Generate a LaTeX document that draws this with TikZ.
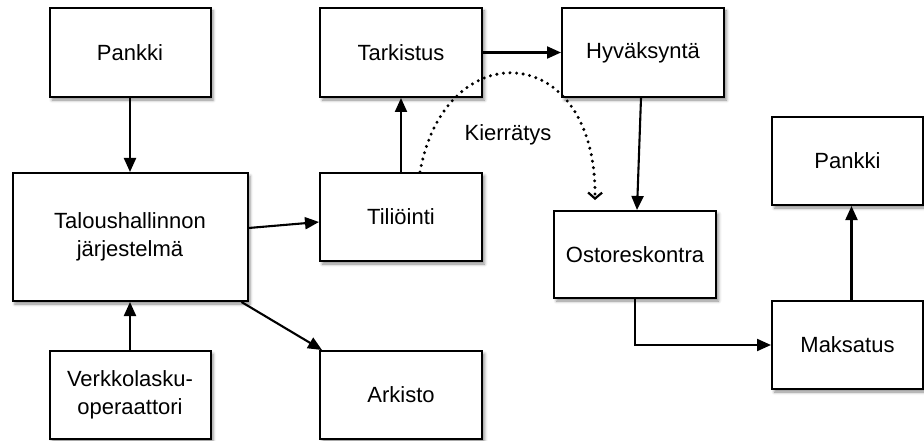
\documentclass[tikz,border=0pt]{standalone}
\usepackage{fontspec}
\setmainfont{Liberation Sans}
\usetikzlibrary{arrows.meta,calc,shadows.blur}
\begin{document}
\begin{tikzpicture}[x=1pt,y=-1pt,
  box/.style={draw, line width=2pt, fill=white, inner sep=0pt, align=center,
    font=\fontsize{22}{28}\selectfont,
    blur shadow={shadow xshift=2.5pt, shadow yshift=-3pt, shadow blur radius=3pt, shadow opacity=45}},
  conn/.style={line width=2.1pt, -{Triangle[length=14pt,width=12pt]}},
  dotline/.style={line width=3.3pt, line cap=round, dash pattern=on 0pt off 6.6pt,
    -{Straight Barb[length=6pt,width=14pt,line width=2.2pt]}}]
\useasboundingbox (0,0) rectangle (924,441);
\node[box, minimum width=161pt, minimum height=89pt] (pankA) at (130,52.5) {Pankki};
\node[box, minimum width=235pt, minimum height=128pt] (talous) at (130,237) {Taloushallinnon\\järjestelmä};
\node[box, minimum width=161pt, minimum height=88pt] (verkko) at (130,395) {Verkkolasku-\\operaattori};
\node[box, minimum width=162pt, minimum height=88pt] (arkisto) at (401,395) {Arkisto};
\node[box, minimum width=162pt, minimum height=88pt] (tili) at (401,217) {Tiliöinti};
\node[box, minimum width=162pt, minimum height=89pt] (tark) at (401,52.5) {Tarkistus};
\node[box, minimum width=162pt, minimum height=89pt] (hyv) at (643,52.5) {Hyväksyntä};
\node[box, minimum width=162pt, minimum height=87pt] (osto) at (635,254.5) {Ostoreskontra};
\node[box, minimum width=151pt, minimum height=88pt] (maks) at (847.5,345) {Maksatus};
\node[box, minimum width=151pt, minimum height=88pt] (pankB) at (847.5,161) {Pankki};
\node[font=\fontsize{22}{28}\selectfont] (kier) at (508,135) {Kierrätys};

\draw[conn] (pankA.south) -- (talous.north);
\draw[conn] (verkko.north) -- (talous.south);
\draw[conn] ($(talous.east)+(0,-9)$) -- ($(tili.west)+(0,5)$);
\draw[conn] ($(talous.south east)+(-7,0)$) -- ($(arkisto.north west)+(3,0)$);
\draw[conn] (tili.north) -- (tark.south);
\draw[conn] (tark.east) -- (hyv.west);
\draw[conn] ($(hyv.south)+(-2,0)$) -- ($(osto.north)+(2,0)$);
\draw[conn] (osto.south) |- (maks.west);
\draw[conn] ($(maks.north)+(4,0)$) -- ($(pankB.south)+(4,0)$);
\coordinate (kend) at (595,200);
\draw[dotline] ($(tili.north)+(19,0)$) .. controls (445,32) and (597,40) .. (kend);
\end{tikzpicture}
\end{document}
